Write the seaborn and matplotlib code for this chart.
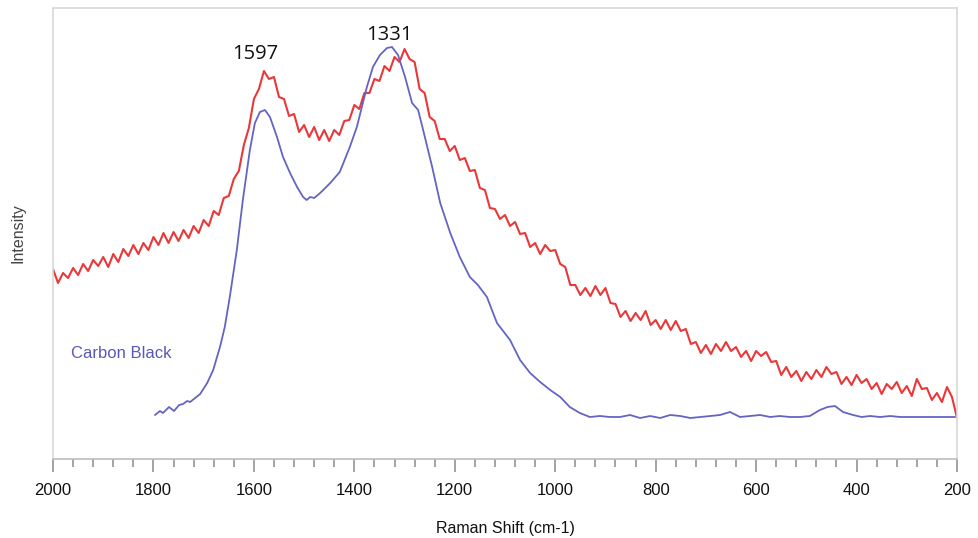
import numpy as np
import pandas as pd
import seaborn as sns
import matplotlib.pyplot as plt
from matplotlib.ticker import MultipleLocator

# Raman shift grid of the red (sample) spectrum, 2000 -> 200 cm-1, step 10
red_shift = np.arange(2000, 199, -10)
red_intensity = [
    190, 176, 186, 181, 191, 184, 195, 188, 199, 193,
    202, 192, 205, 197, 210, 203, 214, 205, 216, 209,
    222, 214, 226, 216, 227, 218, 229, 221, 233, 226,
    239, 233, 248, 244, 261, 263, 280, 288, 314, 331,
    360, 370, 388, 380, 382, 362, 360, 343, 345, 327,
    334, 322, 332, 319, 329, 318, 329, 324, 338, 339,
    354, 350, 366, 366, 380, 378, 393, 388, 402, 397,
    410, 400, 397, 370, 366, 342, 338, 320, 320, 308,
    313, 299, 301, 288, 289, 271, 269, 251, 250, 240,
    244, 233, 237, 225, 226, 212, 216, 205, 214, 208,
    209, 195, 192, 174, 174, 164, 171, 163, 173, 164,
    171, 156, 155, 142, 148, 138, 146, 139, 148, 134,
    139, 130, 139, 129, 138, 128, 130, 115, 117, 106,
    114, 105, 115, 108, 117, 108, 112, 102, 108, 98,
    108, 103, 107, 97, 98, 84, 92, 82, 88, 78,
    87, 80, 89, 82, 92, 85, 87, 75, 82, 74,
    84, 76, 80, 70, 76, 65, 75, 70, 77, 66,
    73, 63, 80, 70, 71, 59, 66, 57, 72, 62,
    41,
]

# Carbon Black reference spectrum
cb_shift = [
    1797, 1787, 1781, 1769, 1759, 1749, 1741, 1733, 1727, 1717,
    1707, 1693, 1681, 1667, 1658, 1648, 1634, 1622, 1608, 1598,
    1588, 1578, 1568, 1554, 1542, 1528, 1514, 1502, 1495, 1488,
    1480, 1468, 1448, 1429, 1409, 1395, 1375, 1363, 1349, 1335,
    1325, 1313, 1299, 1285, 1273, 1263, 1245, 1229, 1209, 1190,
    1170, 1154, 1136, 1116, 1090, 1070, 1050, 1030, 1010, 990,
    971, 951, 931, 911, 891, 871, 851, 831, 811, 791,
    771, 751, 731, 711, 691, 672, 652, 632, 612, 592,
    572, 553, 533, 513, 493, 473, 458, 443, 427, 407,
    390, 373, 353, 333, 313, 293, 273, 253, 233, 204,
]
cb_intensity = [
    44, 48, 46, 52, 48, 54, 55, 58, 57, 61,
    65, 76, 89, 113, 132, 162, 209, 259, 309, 336,
    347, 349, 342, 322, 302, 286, 272, 262, 259, 262,
    261, 266, 276, 287, 312, 332, 372, 392, 404, 411,
    412, 404, 382, 356, 349, 329, 292, 256, 226, 202,
    182, 174, 162, 136, 119, 99, 86, 77, 69, 62,
    52, 46, 42, 43, 42, 42, 44, 41, 43, 41,
    44, 43, 41, 42, 43, 44, 47, 42, 43, 44,
    42, 43, 42, 42, 43, 49, 52, 53, 47, 44,
    42, 43, 42, 43, 42, 42, 42, 42, 42, 42,
]

peak_labels = ["1597", "1331"]
peak_pos = [1597, 1331]
peak_heights = [395, 414]

red_df = pd.DataFrame({"shift": red_shift, "intensity": red_intensity})
cb_df = pd.DataFrame({"shift": cb_shift, "intensity": cb_intensity})

sns.set_style("white")
plt.rcParams["font.family"] = ["Liberation Sans", "DejaVu Sans"]

fig = plt.figure(figsize=(9.79, 5.38), dpi=100)
ax = fig.add_axes([53 / 979, 79 / 538, 904 / 979, 451 / 538])

sns.lineplot(data=red_df, x="shift", y="intensity", color="#e8383a",
             linewidth=1.5, sort=False, ax=ax)
sns.lineplot(data=cb_df, x="shift", y="intensity", color="#6464c4",
             linewidth=1.3, sort=False, ax=ax)

ax.set_xlim(2000, 200)
ax.set_ylim(0, 451)

ax.xaxis.set_major_locator(MultipleLocator(200))
ax.xaxis.set_minor_locator(MultipleLocator(40))
ax.tick_params(axis="x", which="both", bottom=True, direction="out",
               width=1.1, color="#8a8a8a")
ax.tick_params(axis="x", which="major", length=9.5, labelsize=12, pad=8,
               labelcolor="#111111")
ax.tick_params(axis="x", which="minor", length=5.5)
ax.set_yticks([])

for side in ["left", "top", "right"]:
    ax.spines[side].set_color("#d8d8d8")
    ax.spines[side].set_linewidth(1.2)
ax.spines["bottom"].set_color("#bdbdbd")
ax.spines["bottom"].set_linewidth(1.2)

ax.set_xlabel("Raman Shift (cm-1)", fontsize=11.5, color="#111111", labelpad=16)
ax.set_ylabel("Intensity", fontsize=11.5, color="#444444", labelpad=20)

for lab, xp, yp in zip(peak_labels, peak_pos, peak_heights):
    ax.text(xp, yp, lab, fontsize=14.5, ha="center", va="bottom",
            color="#111111", family=["Open Sans", "DejaVu Sans"])

ax.text(1965, 105, "Carbon Black", fontsize=12, color="#5858b8",
        ha="left", va="center")

fig.savefig("out.png", dpi=100)
